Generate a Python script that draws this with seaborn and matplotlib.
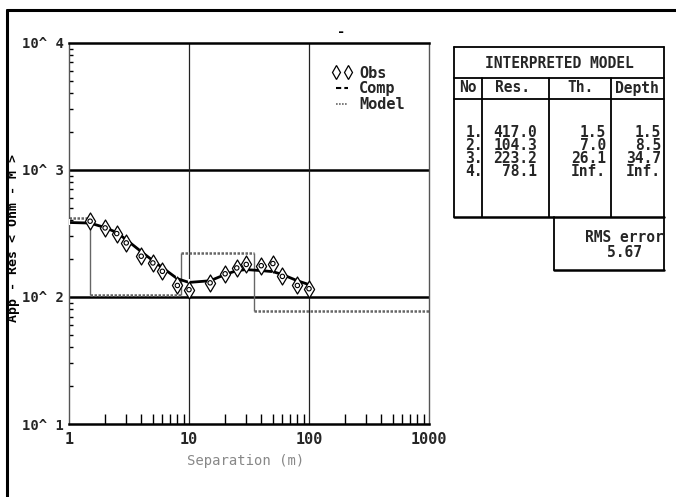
import matplotlib
matplotlib.use("Agg")
import matplotlib.pyplot as plt
from matplotlib.lines import Line2D
from matplotlib.ticker import FixedLocator, FixedFormatter, LogLocator, NullFormatter
import numpy as np
import seaborn as sns

# Observed apparent resistivity (separation in m, ohm-m)
obs_sep = [1.5, 2, 2.5, 3, 4, 5, 6, 8, 10, 15, 20, 25, 30, 40, 50, 60, 80, 100]
obs_res = [394, 349, 315, 266, 209, 185, 159, 123, 114, 129, 152, 169, 180, 176, 183, 145, 123, 116]

# Computed response of the interpreted model
comp_sep = [1, 1.5, 2, 2.5, 3, 4, 5, 6, 8, 10, 15, 20, 25, 30, 40, 50, 60, 80, 100]
comp_res = [385, 381, 351, 321, 282, 227, 193, 170, 139, 130, 134, 150, 161, 164, 161, 158, 150, 134, 125]

# Interpreted layered model
layer_no = ["1.", "2.", "3.", "4."]
layer_res = [417.0, 104.3, 223.2, 78.1]
layer_th = ["1.5", "7.0", "26.1", "Inf."]
layer_depth = [1.5, 8.5, 34.7]
rms_error = 5.67

x_ticks = [1, 10, 100, 1000]
x_ticklabels = ["1", "10", "100", "1000"]
y_ticks = [10, 100, 1000, 10000]
y_ticklabels = ["10^ 1", "10^ 2", "10^ 3", "10^ 4"]

W, H = 676, 497
sns.set_style("white")
plt.rcParams["font.family"] = ["DejaVu Sans Mono", "DejaVu Sans"]
plt.rcParams["font.weight"] = "bold"
FS = 10


def fx(px):
    return px / W


def fy(py):
    return 1 - py / H


fig = plt.figure(figsize=(W / 100, H / 100), dpi=100)
fig.patch.set_facecolor("white")
ax = fig.add_axes([fx(69), fy(424), (429 - 69) / W, (424 - 42.7) / H])
ax.set_xscale("log")
ax.set_yscale("log")
ax.set_xlim(1, 1000)
ax.set_ylim(10, 10000)

# Grid lines at decades
for yv in [100, 1000]:
    ax.axhline(yv, color="black", lw=1.8, zorder=1)
for xv in [10, 100]:
    ax.axvline(xv, color="#222222", lw=0.9, zorder=1)

# Model: horizontal layer segments dotted, steps solid
edges = [1] + layer_depth + [1000]
for i, r in enumerate(layer_res):
    ax.hlines(r, edges[i], edges[i + 1], colors="#666666", linestyles=(0, (1, 0.6)), lw=1.8, zorder=2)
for i, d in enumerate(layer_depth):
    ax.vlines(d, min(layer_res[i], layer_res[i + 1]), max(layer_res[i], layer_res[i + 1]),
              colors="#666666", lw=1.0, zorder=2)

# Computed curve
sns.lineplot(x=comp_sep, y=comp_res, ax=ax, color="black", lw=2.0, marker="|",
             markersize=5, markeredgewidth=1.5, zorder=3, legend=False)

# Observed points: diamond with inner circle
sns.scatterplot(x=obs_sep, y=obs_res, ax=ax, marker="d", s=75, fc="white",
                ec="black", linewidth=0.9, zorder=4, legend=False)
sns.scatterplot(x=obs_sep, y=obs_res, ax=ax, marker="o", s=10, fc="none",
                ec="black", linewidth=0.8, zorder=5, legend=False)

# Axes styling
ax.xaxis.set_major_locator(FixedLocator(x_ticks))
ax.xaxis.set_major_formatter(FixedFormatter(x_ticklabels))
ax.yaxis.set_major_locator(FixedLocator(y_ticks))
ax.yaxis.set_major_formatter(FixedFormatter(y_ticklabels))
ax.xaxis.set_minor_locator(LogLocator(base=10, subs=np.arange(2, 10)))
ax.yaxis.set_minor_locator(LogLocator(base=10, subs=np.arange(2, 10)))
ax.xaxis.set_minor_formatter(NullFormatter())
ax.yaxis.set_minor_formatter(NullFormatter())
ax.tick_params(axis="x", which="major", length=0, labelsize=FS + 1, pad=6)
ax.tick_params(axis="y", which="major", length=0, labelsize=FS, pad=4)
ax.tick_params(axis="x", which="minor", direction="in", length=7, width=1, bottom=True, top=False, color="black")
ax.tick_params(axis="y", which="minor", direction="in", length=3, width=1, left=True, right=False, color="black")
for lbl in ax.get_xticklabels() + ax.get_yticklabels():
    lbl.set_fontweight("bold")
ax.spines["top"].set_linewidth(1.8)
ax.spines["bottom"].set_linewidth(1.8)
ax.spines["left"].set_linewidth(1.0)
ax.spines["right"].set_linewidth(1.0)
ax.spines["left"].set_color("#555555")
ax.spines["right"].set_color("#555555")
ax.spines["top"].set_color("black")
ax.spines["bottom"].set_color("black")
ax.set_xlabel("")
ax.set_ylabel("")

# Legend
handles = [
    Line2D([], [], marker="d", ls="", mfc="white", mec="black", ms=7, mew=0.9),
    Line2D([], [], color="black", ls=(0, (2.5, 1.5)), lw=1.5),
    Line2D([], [], color="#666666", ls=(0, (1, 0.8)), lw=1.2),
]
ax.legend(handles, ["Obs", "Comp", "Model"], loc="upper left",
          bbox_to_anchor=(fx(324), fy(58)), bbox_transform=fig.transFigure,
          frameon=False, numpoints=2, handlelength=1.4, handletextpad=0.4,
          labelspacing=0.05, borderpad=0, prop={"size": FS + 1, "weight": "bold"})

# Axis titles
fig.text(fx(246), fy(461), "Separation (m)", ha="center", va="center",
         fontsize=FS, color="#888888", fontweight="normal")
fig.text(fx(14), fy(238), "App - Res < Ohm - M >", ha="center", va="center",
         rotation=90, fontsize=9.5, color="black", fontweight="bold")
fig.text(fx(341), fy(32), "-", ha="center", va="center", fontsize=FS, color="black")

# Outer frame
fig.add_artist(Line2D([fx(7), 1], [fy(10), fy(10)], color="black", lw=2.2, transform=fig.transFigure))
fig.add_artist(Line2D([fx(7), fx(7)], [fy(10), 0], color="black", lw=2.2, transform=fig.transFigure))

# Interpreted model table
def seg(x0, y0, x1, y1, lw=1.3):
    fig.add_artist(Line2D([fx(x0), fx(x1)], [fy(y0), fy(y1)], color="black", lw=lw,
                          transform=fig.transFigure))

tl, tr, tt, tb = 454, 664, 47, 217
seg(tl, tt, tr, tt)
seg(tl, tt, tl, tb)
seg(tr, tt, tr, tb)
seg(tl, 78, tr, 78)
seg(tl, 99, tr, 99)
seg(tl, tb, tr, tb, lw=1.8)
for cx in [482, 549, 611]:
    seg(cx, 78, cx, tb)
seg(554, tb, 554, 270)
seg(tr, tb, tr, 270)
seg(554, 270, tr, 270, lw=1.8)

TFS = 10.5
fig.text(fx(559), fy(63), "INTERPRETED MODEL", ha="center", va="center", fontsize=TFS)
for cx, t in zip([468, 512, 580, 637], ["No", "Res.", "Th.", "Depth"]):
    fig.text(fx(cx), fy(88), t, ha="center", va="center", fontsize=TFS)

depth_txt = [f"{d:.1f}" for d in layer_depth] + ["Inf."]
res_txt = [f"{r:.1f}" for r in layer_res]
for xr, col in zip([483, 537, 606, 661], [layer_no, res_txt, layer_th, depth_txt]):
    fig.text(fx(xr), fy(152), "\n".join(col), ha="right", va="center",
             multialignment="right", fontsize=TFS, linespacing=0.82)

fig.text(fx(624), fy(245), f"RMS error\n{rms_error:.2f}", ha="center", va="center",
         multialignment="center", fontsize=TFS, linespacing=0.95)

fig.savefig("out.png", dpi=100, facecolor="white")
